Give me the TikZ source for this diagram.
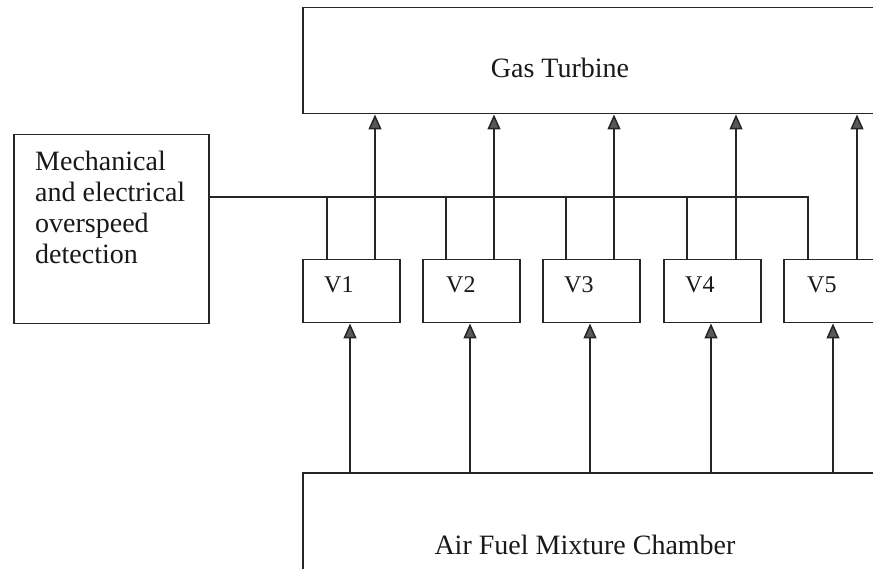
\documentclass[tikz,border=0pt]{standalone}
\usepackage{fontspec}
\setmainfont{Liberation Serif}
\usetikzlibrary{arrows.meta}
\begin{document}
\begin{tikzpicture}[x=1pt,y=-1pt,
  box/.style={draw=black!85, line width=1.5pt, inner sep=0pt, anchor=north west},
  vbox/.style={box, minimum width=97pt, minimum height=63pt},
  bigtxt/.style={font=\fontsize{28}{31}\selectfont, inner sep=0pt, text=black!90},
  vtxt/.style={font=\fontsize{24}{28}\selectfont, inner sep=0pt, anchor=base west, text=black!90},
  wire/.style={draw=black!85, line width=1.5pt},
  arr/.style={wire, -{Triangle[width=13pt,length=15pt,fill=black!65]}}
]
\useasboundingbox (0,0) rectangle (873,569);
\clip (0,0) rectangle (873,569);
\fill[white] (0,0) rectangle (873,569);

% main boxes
\node[box, minimum width=700pt, minimum height=106pt] (GT) at (302,7) {};
\node[bigtxt, anchor=base] (GTt) at (560,78) {Gas Turbine};

\node[box, minimum width=700pt, minimum height=200pt] (AF) at (302,472) {};
\node[bigtxt, anchor=base] (AFt) at (585,554) {Air Fuel Mixture Chamber};

\node[box, minimum width=195pt, minimum height=189pt] (M) at (13,134) {};
\node[bigtxt, anchor=base west, align=left] (Mt) at (35,264)
  {Mechanical\\and electrical\\overspeed\\detection};

% valves
\node[vbox] (V1) at (302,259) {};
\node[vbox] (V2) at (422,259) {};
\node[vbox] (V3) at (542,259) {};
\node[vbox] (V4) at (663,259) {};
\node[vbox] (V5) at (783,259) {};
\node[vtxt] (V1t) at ([shift={(22,34)}]V1.north west) {V1};
\node[vtxt] (V2t) at ([shift={(24,34)}]V2.north west) {V2};
\node[vtxt] (V3t) at ([shift={(22,34)}]V3.north west) {V3};
\node[vtxt] (V4t) at ([shift={(22,34)}]V4.north west) {V4};
\node[vtxt] (V5t) at ([shift={(24,34)}]V5.north west) {V5};

% x positions
\coordinate (bus) at (0,197);
\coordinate (d1) at (327,0); \coordinate (d2) at (446,0); \coordinate (d3) at (566,0);
\coordinate (d4) at (687,0); \coordinate (d5) at (808,0);
\coordinate (u1) at (375,0); \coordinate (u2) at (494,0); \coordinate (u3) at (614,0);
\coordinate (u4) at (736,0); \coordinate (u5) at (857,0);
\coordinate (b1) at (350,0); \coordinate (b2) at (470,0); \coordinate (b3) at (590,0);
\coordinate (b4) at (711,0); \coordinate (b5) at (833,0);

% bus from overspeed detection to valves
\draw[wire] (M.east |- bus) -- (d5 |- bus) -- (V5.north -| d5);
\foreach \i in {1,2,3,4} { \draw[wire] (d\i |- bus) -- (V\i.north -| d\i); }

% valves to turbine
\foreach \i in {1,...,5} { \draw[arr] (V\i.north -| u\i) -- (GT.south -| u\i); }

% chamber to valves
\foreach \i in {1,...,5} { \draw[arr] (AF.north -| b\i) -- (V\i.south -| b\i); }
\end{tikzpicture}
\end{document}
